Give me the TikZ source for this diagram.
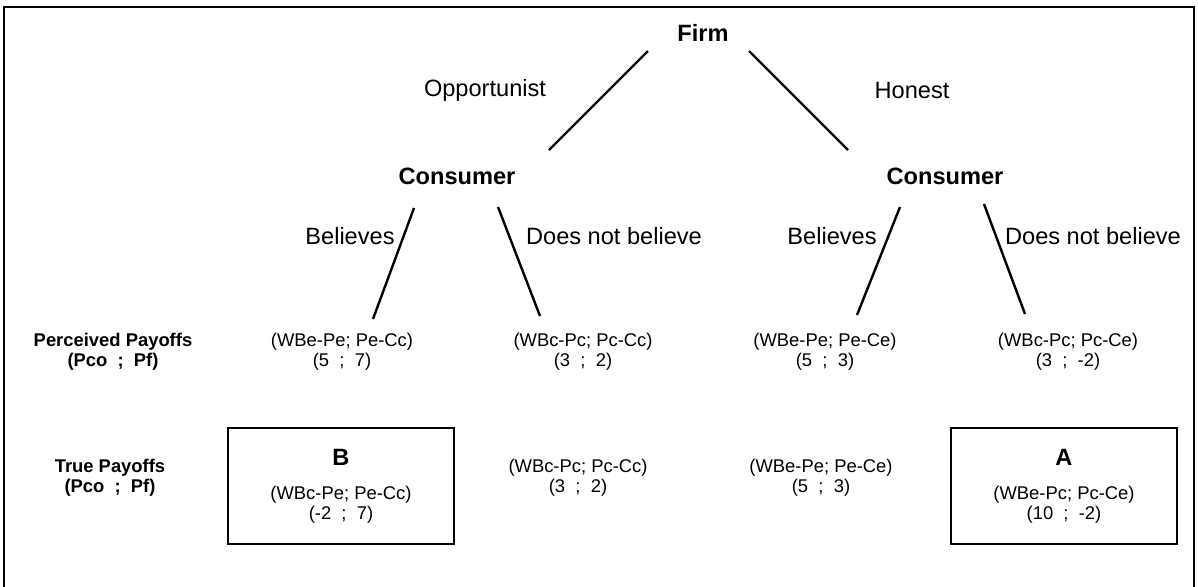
\documentclass[tikz,border=0pt]{standalone}
\usepackage{fontspec}
\setmainfont{Liberation Sans}

\begin{document}
\begin{tikzpicture}[x=0.5pt, y=-0.5pt,
			player/.style={font=\fontsize{11.8}{14}\selectfont\bfseries, inner sep=0pt},
			move/.style={font=\fontsize{11.8}{14}\selectfont, inner sep=0pt},
			payoff/.style={font=\fontsize{9.2}{10.2}\selectfont, align=center, inner sep=0pt},
			rowlabel/.style={font=\fontsize{9.2}{10.2}\selectfont\bfseries, align=center, inner sep=0pt},
			branch/.style={line width=1.2pt},
			outcome/.style={draw, line width=0.8pt, minimum width=113pt, minimum height=58pt, inner sep=0pt}]
			
			\useasboundingbox (0,0) rectangle (1198,586);
			\draw[line width=0.8pt] (4,600) -- (4,7) -- (1194,7) -- (1194,600);
			
			\node[player] (firm) at (703,33) {Firm};
			\node[move] (opp) at (485,90) {Opportunist};
			\node[move] (hon) at (912,90) {Honest};
			\node[player] (consL) at (457,176) {Consumer};
			\node[player] (consR) at (945,176) {Consumer};
			\node[move] (belL) at (350,236) {Believes};
			\node[move] (notL) at (614,236) {Does not believe};
			\node[move] (belR) at (832,236) {Believes};
			\node[move] (notR) at (1093,236) {Does not believe};
			
			\node[rowlabel] (perc) at (113,352) {Perceived Payoffs\\(Pco \ ; \ Pf)};
			\node[payoff] (p1) at (342,352) {(WBe-Pe; Pe-Cc)\\(5 \ ; \ 7)};
			\node[payoff] (p2) at (583,352) {(WBc-Pc; Pc-Cc)\\(3 \ ; \ 2)};
			\node[payoff] (p3) at (825,352) {(WBe-Pe; Pe-Ce)\\(5 \ ; \ 3)};
			\node[payoff] (p4) at (1068,352) {(WBc-Pc; Pc-Ce)\\(3 \ ; \ -2)};
			
			\node[rowlabel] (true) at (110,478) {True Payoffs\\(Pco \ ; \ Pf)};
			\node[outcome] (boxB) at (341,486) {};
			\node[player] (labB) at (341,457) {B};
			\node[payoff] (t1) at (341,504.5) {(WBc-Pe; Pe-Cc)\\(-2 \ ; \ 7)};
			\node[payoff] (t2) at (578,478) {(WBc-Pc; Pc-Cc)\\(3 \ ; \ 2)};
			\node[payoff] (t3) at (821,478) {(WBe-Pe; Pe-Ce)\\(5 \ ; \ 3)};
			\node[outcome] (boxA) at (1064,486) {};
			\node[player] (labA) at (1064,457) {A};
			\node[payoff] (t4) at (1064,504.5) {(WBe-Pc; Pc-Ce)\\(10 \ ; \ -2)};
			
			\draw[branch] ([shift={(-55,18)}]firm.center) -- ([shift={(92,-26)}]consL.center);
			\draw[branch] ([shift={(46,18)}]firm.center) -- ([shift={(-97,-26)}]consR.center);
			\draw[branch] ([shift={(-43,32)}]consL.center) -- ([shift={(31,-33)}]p1.center);
			\draw[branch] ([shift={(41,31)}]consL.center) -- ([shift={(-43,-36)}]p2.center);
			\draw[branch] ([shift={(-45,31)}]consR.center) -- ([shift={(32,-37)}]p3.center);
			\draw[branch] ([shift={(39,28)}]consR.center) -- ([shift={(-43,-38)}]p4.center);
		\end{tikzpicture}
\end{document}
